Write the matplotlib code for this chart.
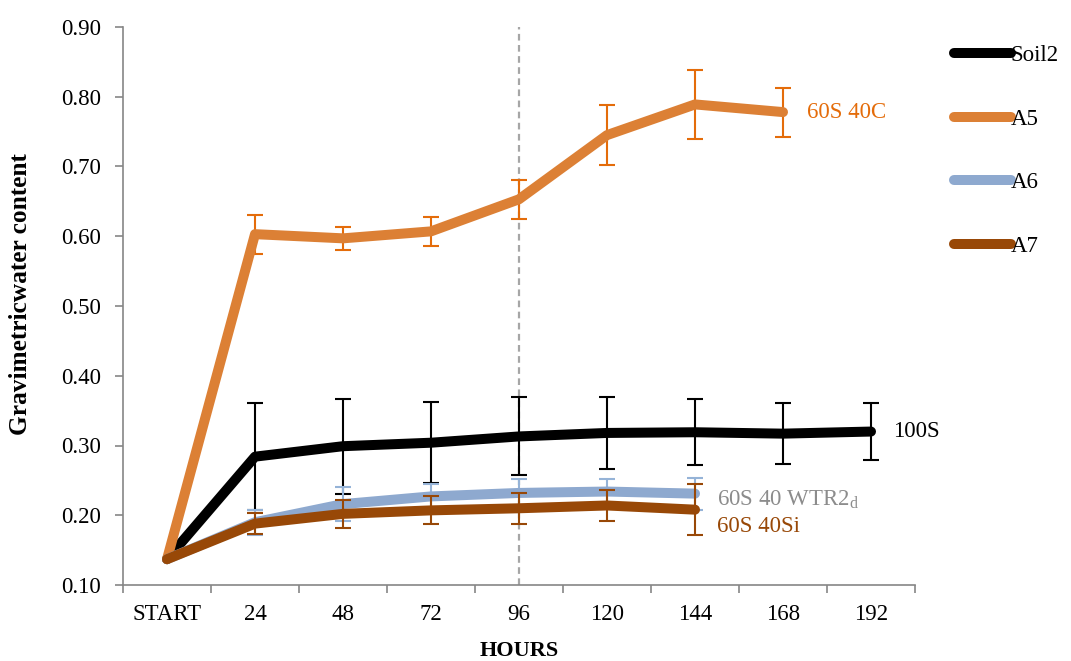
import matplotlib
matplotlib.use("Agg")
import matplotlib.pyplot as plt
import numpy as np

categories = ["START", "24", "48", "72", "96", "120", "144", "168", "192"]

soil2 = [0.137, 0.284, 0.299, 0.304, 0.313, 0.318, 0.319, 0.317, 0.320]
soil2_err = [0.0, 0.077, 0.068, 0.058, 0.056, 0.051, 0.047, 0.044, 0.041]

a5 = [0.137, 0.603, 0.597, 0.607, 0.653, 0.745, 0.789, 0.778]
a5_err = [0.0, 0.028, 0.016, 0.021, 0.028, 0.043, 0.050, 0.035]

a6 = [0.137, 0.190, 0.216, 0.227, 0.232, 0.234, 0.231]
a6_err = [0.0, 0.018, 0.024, 0.018, 0.020, 0.018, 0.023]

a7 = [0.137, 0.188, 0.202, 0.207, 0.210, 0.214, 0.208]
a7_err = [0.0, 0.015, 0.020, 0.020, 0.022, 0.022, 0.037]

series_names = ["Soil2", "A5", "A6", "A7"]
end_labels = ["100S", "60S 40C", "60S 40 WTR2$_\\mathregular{d}$", "60S 40Si"]

serif = ["Liberation Serif", "DejaVu Serif"]
FS = 16.5

fig = plt.figure(figsize=(10.71, 6.61), dpi=100)
ax = fig.add_axes([123 / 1071, 1 - 585 / 661, (915 - 123) / 1071, (585 - 27) / 661])

line_colors = ["#000000", "#DC8035", "#8EA9CF", "#984807"]
err_colors = ["#000000", "#E46C0A", "#95B3D7", "#984807"]
data = [soil2, a5, a6, a7]
errs = [soil2_err, a5_err, a6_err, a7_err]

for i, (y, e) in enumerate(zip(data, errs)):
    x = np.arange(len(y))
    ax.errorbar(x[1:], y[1:], yerr=e[1:], fmt="none", ecolor=err_colors[i],
                elinewidth=1.5, capsize=6, capthick=1.5, zorder=2 + i)
    ax.plot(x, y, color=line_colors[i], lw=7.2, solid_capstyle="round",
            solid_joinstyle="round", label=series_names[i], zorder=3 + i)

ax.axvline(4, color="#A6A6A6", lw=1.6, ls=(0, (3, 2)), zorder=1)

ax.set_xlim(-0.5, 8.5)
ax.set_ylim(0.10, 0.90)
ax.set_yticks(np.arange(0.10, 0.901, 0.10))
ax.set_yticklabels([f"{v:.2f}" for v in np.arange(0.10, 0.901, 0.10)])
ax.set_xticks(np.arange(len(categories)))
ax.set_xticklabels(categories)
ax.set_xticks(np.arange(-0.5, 8.6, 1.0), minor=True)
ax.tick_params(axis="x", which="major", length=0, pad=14)
ax.tick_params(axis="x", which="minor", length=6, color="#868686", width=1.2)
ax.tick_params(axis="y", length=6, color="#868686", width=1.2, pad=10)
for lab in ax.get_xticklabels() + ax.get_yticklabels():
    lab.set_fontfamily(serif)
    lab.set_fontsize(FS)

for s in ["top", "right"]:
    ax.spines[s].set_visible(False)
for s in ["left", "bottom"]:
    ax.spines[s].set_color("#868686")
    ax.spines[s].set_linewidth(1.2)

ax.set_ylabel("Gravimetricwater content", fontsize=18.3, fontweight="bold",
              family=serif)
ax.yaxis.set_label_coords((32 - 123) / 792, (585 - 294) / 558)
ax.set_xlabel("HOURS", fontsize=16, fontweight="bold", family=serif)
ax.xaxis.set_label_coords(0.5, (585 - 641) / 558)

# end labels
ax.annotate(end_labels[1], xy=(7, a5[-1]), xytext=(17, 0), textcoords="offset points",
            color="#E46C0A", fontsize=FS, family=serif, va="center")
ax.annotate(end_labels[0], xy=(8, soil2[-1]), xytext=(16, 0), textcoords="offset points",
            color="#000000", fontsize=FS, family=serif, va="center")
ax.annotate(end_labels[2], xy=(6, a6[-1]), xytext=(16, -4), textcoords="offset points",
            color="#8C8C8C", fontsize=FS, family=serif, va="center")
ax.annotate(end_labels[3], xy=(6, a7[-1]), xytext=(16, -12), textcoords="offset points",
            color="#984807", fontsize=FS, family=serif, va="center")

leg = fig.legend(loc="upper left", bbox_to_anchor=(933 / 1071, 1 - 24 / 661),
                 frameon=False, handlelength=2.5, handletextpad=0.0,
                 labelspacing=1.87, prop={"family": serif, "size": FS})

fig.savefig("out.png", dpi=100)
